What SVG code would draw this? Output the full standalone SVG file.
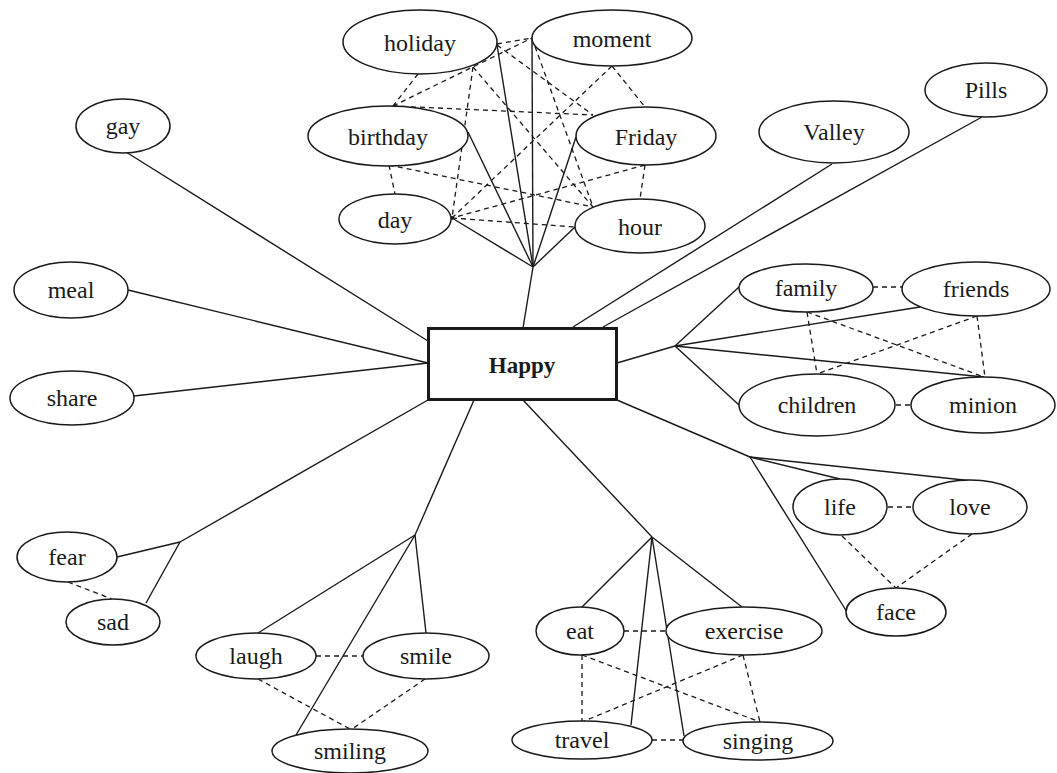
<svg xmlns="http://www.w3.org/2000/svg" width="1057" height="773" viewBox="0 0 1057 773">
<style>
.n ellipse{fill:#fff;stroke:#1a1a1a;stroke-width:1.5}
.n text{font-family:"Liberation Serif","Times New Roman",serif;font-size:24px;fill:#1a1a1a;text-anchor:middle}
.s{stroke:#1a1a1a;stroke-width:1.4;fill:none}
.d{stroke:#1a1a1a;stroke-width:1.3;fill:none;stroke-dasharray:5 4}
</style>
<rect width="1057" height="773" fill="#fff"/>
<g id="connectors">
<line class="s" x1="126" y1="152" x2="428" y2="341"/>
<line class="s" x1="128" y1="290" x2="428" y2="363"/>
<line class="s" x1="134" y1="396" x2="428" y2="363"/>
<line class="s" x1="523" y1="328" x2="533" y2="267"/>
<line class="s" x1="533" y1="267" x2="497" y2="45"/>
<line class="s" x1="533" y1="267" x2="532" y2="38"/>
<line class="s" x1="533" y1="267" x2="468" y2="132"/>
<line class="s" x1="533" y1="267" x2="576" y2="137"/>
<line class="s" x1="533" y1="267" x2="452" y2="218"/>
<line class="s" x1="533" y1="267" x2="575" y2="227"/>
<line class="d" x1="497" y1="44" x2="532" y2="38"/>
<line class="d" x1="418" y1="74" x2="393" y2="106"/>
<line class="d" x1="497" y1="45" x2="593" y2="115"/>
<line class="d" x1="473" y1="67" x2="452" y2="218"/>
<line class="d" x1="473" y1="67" x2="593" y2="207"/>
<line class="d" x1="393" y1="106" x2="532" y2="38"/>
<line class="d" x1="612" y1="66" x2="645" y2="107"/>
<line class="d" x1="612" y1="66" x2="452" y2="218"/>
<line class="d" x1="532" y1="38" x2="593" y2="207"/>
<line class="d" x1="393" y1="106" x2="593" y2="115"/>
<line class="d" x1="389" y1="165" x2="395" y2="194"/>
<line class="d" x1="389" y1="165" x2="593" y2="207"/>
<line class="d" x1="645" y1="165" x2="452" y2="218"/>
<line class="d" x1="645" y1="165" x2="640" y2="199"/>
<line class="d" x1="452" y1="218" x2="575" y2="227"/>
<circle cx="452" cy="218" r="2" fill="#1a1a1a"/>
<line class="s" x1="573" y1="327" x2="832" y2="164"/>
<line class="s" x1="603" y1="327" x2="982" y2="117"/>
<line class="s" x1="617" y1="363" x2="675" y2="346"/>
<line class="s" x1="675" y1="346" x2="739" y2="287"/>
<line class="s" x1="675" y1="346" x2="920" y2="307"/>
<line class="s" x1="675" y1="346" x2="984" y2="377"/>
<line class="s" x1="675" y1="346" x2="739" y2="405"/>
<line class="d" x1="873" y1="287" x2="902" y2="287"/>
<line class="d" x1="896" y1="405" x2="911" y2="405"/>
<line class="d" x1="807" y1="312" x2="817" y2="374"/>
<line class="d" x1="807" y1="312" x2="984" y2="377"/>
<line class="d" x1="977" y1="316" x2="817" y2="374"/>
<line class="d" x1="977" y1="316" x2="985" y2="377"/>
<line class="s" x1="617" y1="400" x2="750" y2="457"/>
<line class="s" x1="750" y1="457" x2="840" y2="479"/>
<line class="s" x1="750" y1="457" x2="973" y2="481"/>
<line class="s" x1="750" y1="457" x2="847" y2="612"/>
<line class="d" x1="888" y1="507" x2="913" y2="507"/>
<line class="d" x1="842" y1="536" x2="896" y2="588"/>
<line class="d" x1="972" y1="534" x2="896" y2="588"/>
<line class="s" x1="523" y1="400" x2="652" y2="537"/>
<line class="s" x1="652" y1="537" x2="582" y2="607"/>
<line class="s" x1="652" y1="537" x2="742" y2="607"/>
<line class="s" x1="652" y1="537" x2="631" y2="725"/>
<line class="s" x1="652" y1="537" x2="684" y2="736"/>
<line class="d" x1="624" y1="631" x2="666" y2="631"/>
<line class="d" x1="652" y1="740" x2="684" y2="740"/>
<line class="d" x1="582" y1="655" x2="582" y2="722"/>
<line class="d" x1="582" y1="655" x2="760" y2="722"/>
<line class="d" x1="743" y1="655" x2="582" y2="722"/>
<line class="d" x1="743" y1="655" x2="760" y2="722"/>
<line class="s" x1="428" y1="400" x2="180" y2="542"/>
<line class="s" x1="180" y1="542" x2="117" y2="557"/>
<line class="s" x1="180" y1="542" x2="146" y2="603"/>
<line class="d" x1="68" y1="582" x2="112" y2="599"/>
<line class="s" x1="474" y1="400" x2="415" y2="535"/>
<line class="s" x1="415" y1="535" x2="258" y2="633"/>
<line class="s" x1="415" y1="535" x2="426" y2="633"/>
<line class="s" x1="415" y1="535" x2="296" y2="735"/>
<line class="d" x1="316" y1="656" x2="363" y2="656"/>
<line class="d" x1="258" y1="679" x2="350" y2="729"/>
<line class="d" x1="425" y1="679" x2="352" y2="729"/>
</g>
<g id="happy">
<rect x="428.5" y="328.5" width="188" height="71" fill="#fff" stroke="#1a1a1a" stroke-width="3"/>
<text x="522" y="373" font-family="Liberation Serif,'Times New Roman',serif" font-size="23" font-weight="bold" text-anchor="middle" fill="#1a1a1a">Happy</text>
</g>
<g id="holiday" class="n"><ellipse cx="420" cy="42" rx="77" ry="32"/><text x="420" y="51">holiday</text></g>
<g id="moment" class="n"><ellipse cx="612" cy="38" rx="80" ry="28"/><text x="612" y="47">moment</text></g>
<g id="birthday" class="n"><ellipse cx="388" cy="136" rx="80" ry="30"/><text x="388" y="145">birthday</text></g>
<g id="friday" class="n"><ellipse cx="646" cy="136" rx="70" ry="29"/><text x="646" y="145">Friday</text></g>
<g id="day" class="n"><ellipse cx="395" cy="219" rx="56" ry="25"/><text x="395" y="228">day</text></g>
<g id="hour" class="n"><ellipse cx="640" cy="226" rx="65" ry="27"/><text x="640" y="235">hour</text></g>
<g id="gay" class="n"><ellipse cx="123" cy="126" rx="47" ry="27"/><text x="123" y="134">gay</text></g>
<g id="meal" class="n"><ellipse cx="71" cy="290" rx="57" ry="28"/><text x="71" y="298">meal</text></g>
<g id="share" class="n"><ellipse cx="72" cy="398" rx="62" ry="27"/><text x="72" y="406">share</text></g>
<g id="valley" class="n"><ellipse cx="834" cy="132" rx="75" ry="31"/><text x="834" y="140">Valley</text></g>
<g id="pills" class="n"><ellipse cx="986" cy="90" rx="61" ry="27"/><text x="986" y="98">Pills</text></g>
<g id="family" class="n"><ellipse cx="806" cy="288" rx="67" ry="24"/><text x="806" y="296">family</text></g>
<g id="friends" class="n"><ellipse cx="976" cy="289" rx="74" ry="27"/><text x="976" y="297">friends</text></g>
<g id="children" class="n"><ellipse cx="817" cy="405" rx="78" ry="31"/><text x="817" y="413">children</text></g>
<g id="minion" class="n"><ellipse cx="983" cy="405" rx="72" ry="28"/><text x="983" y="413">minion</text></g>
<g id="life" class="n"><ellipse cx="840" cy="507" rx="47" ry="28"/><text x="840" y="515">life</text></g>
<g id="love" class="n"><ellipse cx="970" cy="507" rx="57" ry="27"/><text x="970" y="515">love</text></g>
<g id="face" class="n"><ellipse cx="896" cy="612" rx="50" ry="24"/><text x="896" y="620">face</text></g>
<g id="eat" class="n"><ellipse cx="580" cy="631" rx="44" ry="24"/><text x="580" y="639">eat</text></g>
<g id="exercise" class="n"><ellipse cx="744" cy="631" rx="78" ry="24"/><text x="744" y="639">exercise</text></g>
<g id="travel" class="n"><ellipse cx="582" cy="740" rx="70" ry="19"/><text x="582" y="748">travel</text></g>
<g id="singing" class="n"><ellipse cx="758" cy="741" rx="75" ry="19"/><text x="758" y="749">singing</text></g>
<g id="fear" class="n"><ellipse cx="67" cy="557" rx="50" ry="25"/><text x="67" y="565">fear</text></g>
<g id="sad" class="n"><ellipse cx="113" cy="622" rx="47" ry="23"/><text x="113" y="630">sad</text></g>
<g id="laugh" class="n"><ellipse cx="256" cy="656" rx="60" ry="23"/><text x="256" y="664">laugh</text></g>
<g id="smile" class="n"><ellipse cx="426" cy="656" rx="63" ry="23"/><text x="426" y="664">smile</text></g>
<g id="smiling" class="n"><ellipse cx="350" cy="751" rx="78" ry="22"/><text x="350" y="759">smiling</text></g>
</svg>
